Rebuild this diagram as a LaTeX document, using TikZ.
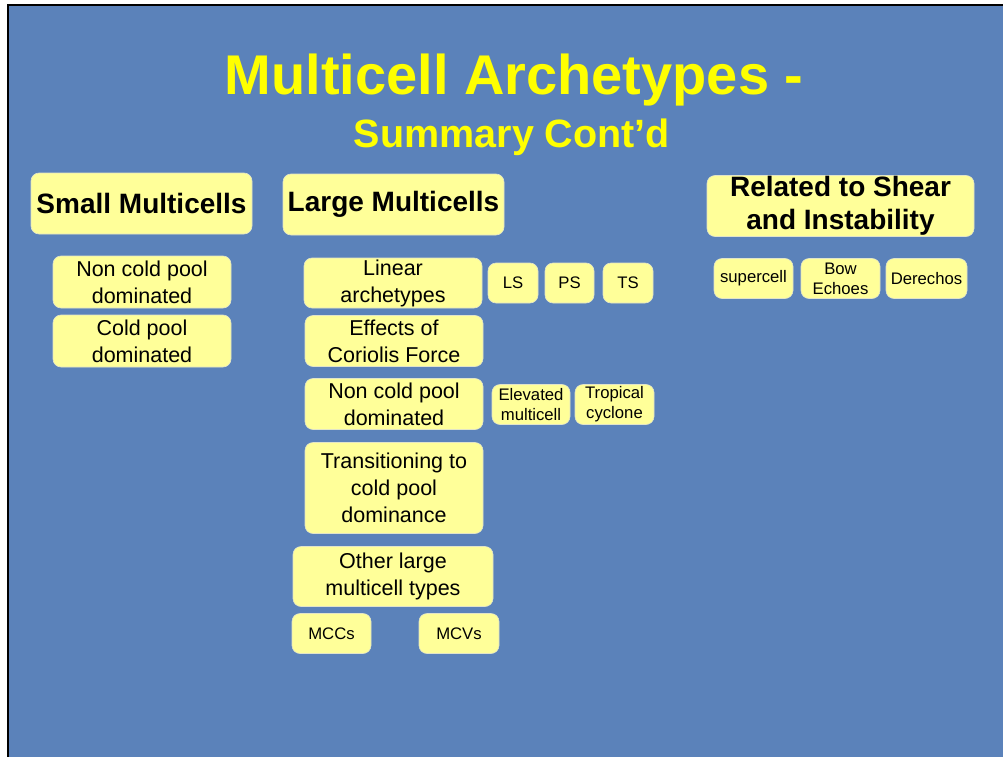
\documentclass[tikz,border=0pt]{standalone}
\usepackage{fontspec}
\setmainfont{Liberation Sans}
\definecolor{slideblue}{RGB}{91,130,186}
\definecolor{boxfill}{RGB}{255,255,153}
\definecolor{boxedge}{RGB}{225,228,200}
\definecolor{titleyellow}{RGB}{255,255,0}
\begin{document}
\begin{tikzpicture}[x=1pt,y=-1pt,
  boxsize/.style 2 args={minimum width=#1pt,minimum height=#2pt},
  box/.style={draw=boxedge,line width=0.6pt,fill=boxfill,rounded corners=8pt,align=center,inner sep=0pt,text=black},
  headbox/.style={box,font=\bfseries\fontsize{28}{33}\selectfont},
  itembox/.style={box,font=\fontsize{21.5}{27}\selectfont},
  tagbox/.style={box,font=\fontsize{16.7}{20}\selectfont}]
\useasboundingbox (0,0) rectangle (1003,757);
% slide background
\fill[white] (0,0) rectangle (1003,757);
\fill[black] (7,4) rectangle (1003,757);
\fill[slideblue] (9,6) rectangle (1003,757);
% title
\node[anchor=base,text=titleyellow,font=\bfseries\fontsize{56}{60}\selectfont,inner sep=0pt] (title) at (514,95) {Multicell Archetypes -};
\node[anchor=base,text=titleyellow,font=\bfseries\fontsize{39.5}{44}\selectfont,inner sep=0pt] (subtitle) at (512,147) {Summary Cont'd};
% small multicells
\node[headbox,boxsize={221}{61}] (small) at (141.5,203.5) {Small Multicells};
\node[itembox,boxsize={178}{52}] (smallnoncold) at (142,282) {Non cold pool\\dominated};
\node[itembox,boxsize={178}{52}] (smallcold) at (142,341) {Cold pool\\dominated};
% large multicells
\node[headbox,boxsize={221}{61}] (large) at (393.5,204.5) {Large Multicells};
\node[itembox,boxsize={178}{50}] (linear) at (393,283) {Linear\\archetypes};
\node[tagbox,boxsize={50}{40}] (ls) at (513,283) {LS};
\node[tagbox,boxsize={49}{40}] (ps) at (569.5,283) {PS};
\node[tagbox,boxsize={50}{40}] (ts) at (628,283) {TS};
\node[itembox,boxsize={178}{51}] (coriolis) at (394,341) {Effects of\\Coriolis Force};
\node[itembox,boxsize={178}{51}] (largenoncold) at (394,404) {Non cold pool\\dominated};
\node[tagbox,boxsize={78}{40}] (elevated) at (531,404.5) {Elevated\\multicell};
\node[tagbox,boxsize={79}{40}] (tropical) at (614.5,404.5) {Tropical\\cyclone};
\node[itembox,boxsize={178}{91}] (transition) at (394,488) {Transitioning to\\cold pool\\dominance};
\node[itembox,boxsize={200}{60}] (otherlarge) at (393,576.5) {Other large\\multicell types};
\node[tagbox,boxsize={79}{40}] (mccs) at (331.5,633.5) {MCCs};
\node[tagbox,boxsize={80}{40}] (mcvs) at (459,633.5) {MCVs};
% shear and instability
\node[headbox,boxsize={267}{61}] (shear) at (840.5,206) {Related to Shear\\and Instability};
\node[tagbox,boxsize={79}{40}] (supercell) at (753.5,278.5) {supercell};
\node[tagbox,boxsize={79}{40}] (bow) at (840.5,278.5) {Bow\\Echoes};
\node[tagbox,boxsize={81}{40}] (derechos) at (926.5,278.5) {Derechos};
\end{tikzpicture}
\end{document}
